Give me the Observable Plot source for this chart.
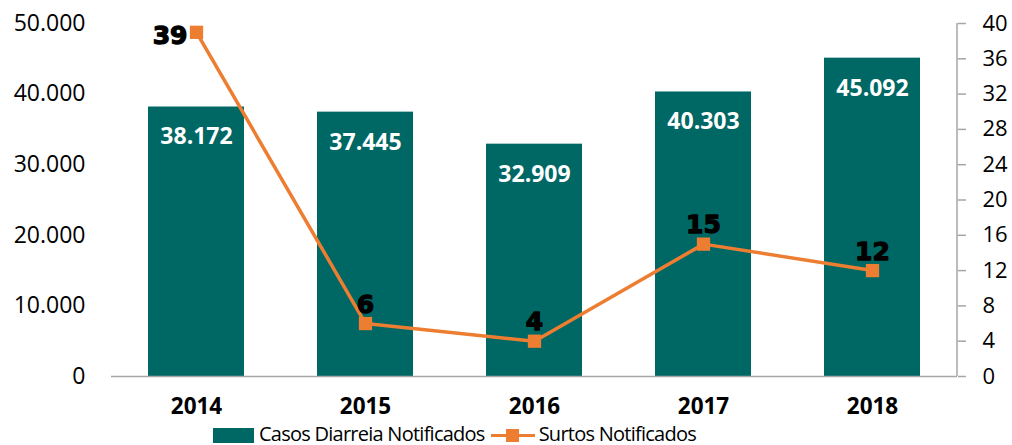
<!DOCTYPE html>
<html>
<head>
<meta charset="utf-8">
<script src="https://cdn.jsdelivr.net/npm/d3@7"></script>
<script src="https://cdn.jsdelivr.net/npm/@observablehq/plot@0.6"></script>
<style>
  body { margin: 0; background: #fff; font-family: "Open Sans", sans-serif; }
  #chart { width: 1012px; }
  .legend { display: flex; align-items: center; height: 23px; margin-left: 213px; font-size: 20px; letter-spacing: -0.75px; color: #000; line-height: 23px; }
  .sw-bar { width: 41px; height: 15px; background: #006864; margin-right: 5px; margin-top: 4px; }
  .sw-line { position: relative; width: 44px; height: 15px; margin: 4px 4px 0 6px; }
  .sw-line .l { position: absolute; left: 0; right: 0; top: 6px; height: 3px; background: #ED7D31; }
  .sw-line .m { position: absolute; left: 15px; top: 1px; width: 13px; height: 13px; background: #ED7D31; }
</style>
</head>
<body>
<div id="chart"></div>
<script>
const years = ["2014", "2015", "2016", "2017", "2018"];
const casos = [38172, 37445, 32909, 40303, 45092];
const surtos = [39, 6, 4, 15, 12];
const leftTicks = [0, 10000, 20000, 30000, 40000, 50000];
const rightTicks = [0, 4, 8, 12, 16, 20, 24, 28, 32, 36, 40];
const seriesNames = ["Casos Diarreia Notificados", "Surtos Notificados"];

const teal = "#006864";
const orange = "#ED7D31";
const gray = "#A6A6A6";
const k = 50000 / 40; // right-axis to left-axis conversion

const data = years.map((y, i) => ({ year: y, casos: casos[i], surtos: surtos[i], s: surtos[i] * k, i }));
const fmt = d => d3.format(",")(d).replace(/,/g, ".");

const rightLine = (index, scales, values, dims) => {
  const x = dims.width - dims.marginRight;
  return d3.create("svg:line")
    .attr("x1", x).attr("x2", x)
    .attr("y1", scales.y(50000)).attr("y2", scales.y(0))
    .attr("stroke", gray).attr("stroke-width", 1.5)
    .node();
};

const chart = Plot.plot({
  width: 1012,
  height: 422,
  marginLeft: 111,
  marginRight: 55,
  marginTop: 23,
  marginBottom: 46,
  style: { fontFamily: "Open Sans, sans-serif", color: "#000", background: "#fff" },
  x: { domain: years, paddingInner: 0.43, paddingOuter: 0.215 },
  y: { domain: [0, 50000] },
  marks: [
    Plot.barY(data, { x: "year", y: "casos", fill: teal }),
    Plot.ruleY([0], { stroke: gray, strokeWidth: 1.5 }),
    rightLine,
    Plot.axisY({ anchor: "left", ticks: leftTicks, tickFormat: fmt, tickSize: 0, tickPadding: 26, fontSize: 23, fill: "#000" }),
    Plot.axisY({ anchor: "right", ticks: rightTicks.map(t => t * k), tickFormat: d => d / k, tickSize: 8, tickPadding: 17, fontSize: 22, stroke: gray, strokeWidth: 1.5, fill: "#000", textAnchor: "start" }),
    Plot.axisX({ tickSize: 0, tickPadding: 22, fontSize: 22.5, fontWeight: "bold", fill: "#000", label: null }),
    Plot.text(data, { x: "year", y: "casos", text: d => fmt(d.casos), dy: 30, fill: "#fff", fontSize: 23, fontWeight: "bold", lineAnchor: "middle" }),
    Plot.line(data, { x: "year", y: "s", stroke: orange, strokeWidth: 3.5 }),
    Plot.dot(data, { x: "year", y: "s", symbol: "square", fill: orange, r: 7.5 }),
    Plot.text(data.filter(d => d.i === 0), { x: "year", y: "s", text: d => String(d.surtos), textAnchor: "end", dx: -9, dy: 4, lineAnchor: "middle", fontFamily: "DejaVu Sans", fontWeight: "bold", fontSize: 25, fill: "#000", stroke: "#000", strokeWidth: 1.3 }),
    Plot.text(data.filter(d => d.i !== 0), { x: "year", y: "s", text: d => String(d.surtos), dy: -19, lineAnchor: "middle", fontFamily: "DejaVu Sans", fontWeight: "bold", fontSize: 25, fill: "#000", stroke: "#000", strokeWidth: 1.3 })
  ]
});

const root = document.getElementById("chart");
root.appendChild(chart);
const legend = document.createElement("div");
legend.className = "legend";
legend.innerHTML = `<div class="sw-bar"></div><span>${seriesNames[0]}</span><div class="sw-line"><div class="l"></div><div class="m"></div></div><span>${seriesNames[1]}</span>`;
root.appendChild(legend);
</script>
</body>
</html>
